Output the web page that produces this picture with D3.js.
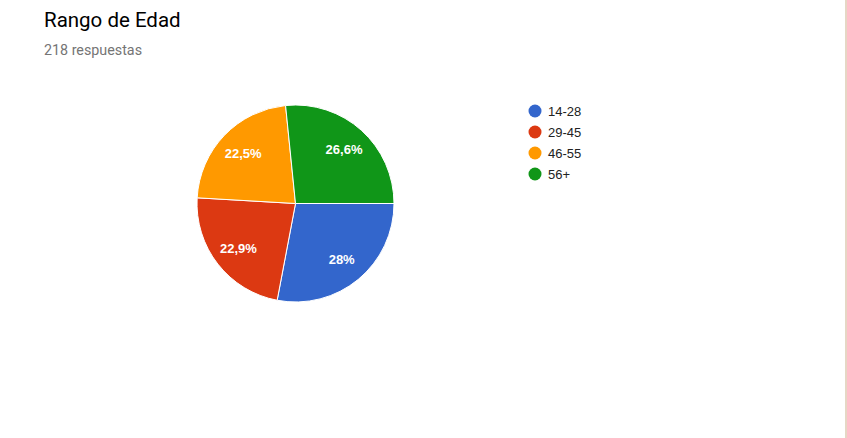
<!DOCTYPE html>
<html><head><meta charset="utf-8">
<script src="https://cdn.jsdelivr.net/npm/d3@7"></script>
<style>
html,body{margin:0;padding:0;background:#fff;}
svg{display:block;}
</style></head>
<body>
<svg id="c" width="847" height="438"></svg>
<script>
const categories = ["14-28", "29-45", "46-55", "56+"];
const counts = [61, 50, 49, 58];
const colors = ["#3366cc", "#dc3912", "#ff9900", "#109618"];
const title = "Rango de Edad";
const subtitle = "218 respuestas";

const svg = d3.select("#c");
svg.append("rect").attr("x",845).attr("y",0).attr("width",2).attr("height",438).attr("fill","#e6d7c5");

svg.append("text").attr("x",44).attr("y",27).attr("font-family","Roboto").attr("font-size",20.5)
  .attr("fill","#000").text(title);
svg.append("text").attr("x",44).attr("y",55).attr("font-family","Roboto").attr("font-size",14.3)
  .attr("fill","#757575").text(subtitle);

const cx = 295.5, cy = 203.5, r = 98.5;
const total = d3.sum(counts);
const data = categories.map((c,i)=>({cat:c, value:counts[i], color:colors[i]}));
const pie = d3.pie().value(d=>d.value).sort(null).startAngle(Math.PI/2).endAngle(Math.PI/2+2*Math.PI);
const arcs = pie(data);
const arc = d3.arc().innerRadius(0).outerRadius(r);
const labelArc = d3.arc().innerRadius(r*0.735).outerRadius(r*0.735);
const g = svg.append("g").attr("transform",`translate(${cx},${cy})`);
g.selectAll("path").data(arcs).join("path").attr("d",arc).attr("fill",d=>d.data.color)
  .attr("stroke","#fff").attr("stroke-width",1);
const fmt = v => { const p = Math.round(v/total*1000)/10; return String(p).replace(".",",")+"%"; };
g.selectAll("text").data(arcs).join("text")
  .attr("transform",d=>{const [x,y]=labelArc.centroid(d);return `translate(${x},${y})`;})
  .attr("text-anchor","middle").attr("dy","0.36em")
  .attr("font-family","Liberation Sans, Arial").attr("font-weight","bold").attr("font-size",13)
  .attr("fill","#fff").text(d=>fmt(d.data.value));

const lg = svg.append("g").attr("transform","translate(535,111)");
const items = lg.selectAll("g").data(data).join("g").attr("transform",(d,i)=>`translate(0,${i*21})`);
items.append("circle").attr("r",6.5).attr("fill",d=>d.color);
items.append("text").attr("x",13).attr("dy","0.36em").attr("font-family","Liberation Sans, Arial")
  .attr("font-size",13).attr("fill","#222").text(d=>d.cat);
</script>
</body></html>
